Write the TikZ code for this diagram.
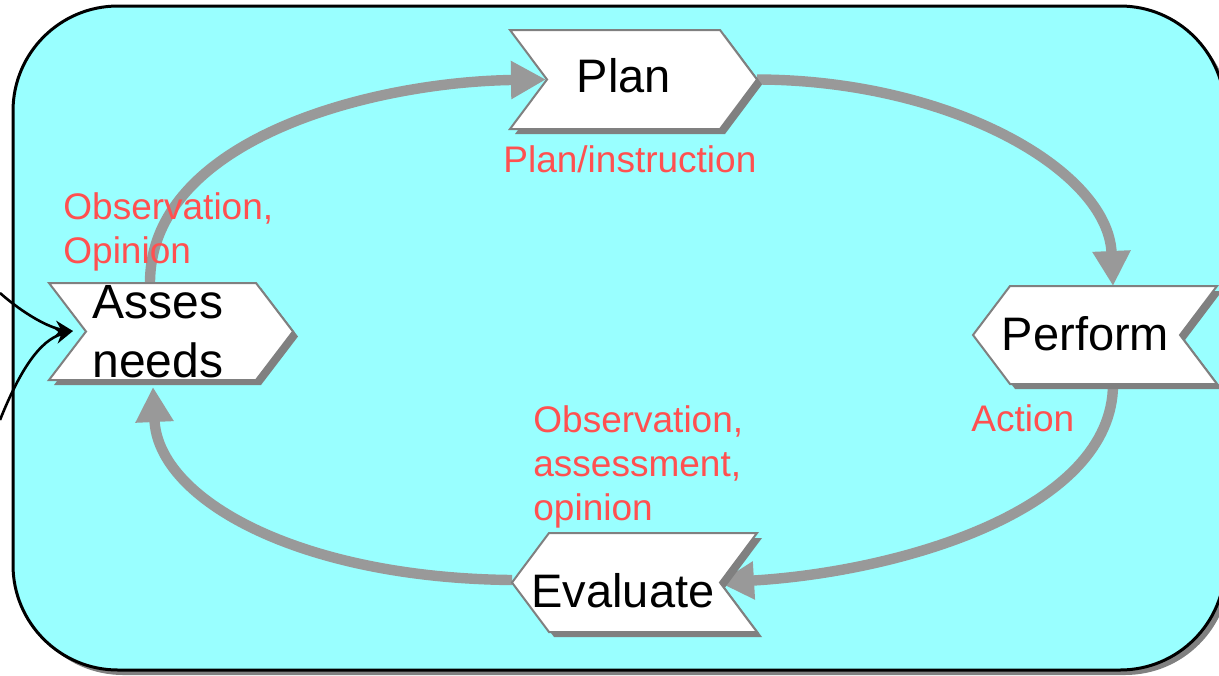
\documentclass[tikz,border=0pt]{standalone}
\usepackage{fontspec}
\setmainfont{Liberation Sans}
\usetikzlibrary{arrows.meta}
\definecolor{bgcyan}{HTML}{99FFFF}
\definecolor{arrgray}{HTML}{999999}
\definecolor{shgray}{HTML}{808080}
\definecolor{lblred}{HTML}{FF5050}
\tikzset{
  chevbox/.style={fill=white, draw=shgray, line width=1pt},
  chevshadow/.style={fill=shgray},
  cycarrow/.style={draw=arrgray, line width=5.2pt, -{Triangle[length=17.5pt,width=18pt]}},
  inarrow/.style={draw=black, line width=1.3pt, -{Stealth[length=9pt,width=8pt]}},
  steptext/.style={inner sep=0pt, font=\fontsize{23.5}{29.5}\selectfont, text=black},
  redlabel/.style={inner sep=0pt, font=\fontsize{18.5}{22}\selectfont, text=lblred, align=left},
}
% east-pointing chevron: L R T B
\newcommand\chevE[4]{%
  \fill[chevshadow] ({#1+5},{#3+5}) -- ({#2-37+5},{#3+5}) -- ({#2+5},{(#3+#4)/2+5}) -- ({#2-37+5},{#4+5}) -- ({#1+5},{#4+5}) -- ({#1+37+5},{(#3+#4)/2+5}) -- cycle;
  \filldraw[chevbox] (#1,#3) -- ({#2-37},#3) -- (#2,{(#3+#4)/2}) -- ({#2-37},#4) -- (#1,#4) -- ({#1+37},{(#3+#4)/2}) -- cycle;}
% west-pointing chevron: L R T B
\newcommand\chevW[4]{%
  \fill[chevshadow] ({#1+5},{(#3+#4)/2+5}) -- ({#1+37+5},{#3+5}) -- ({#2+5},{#3+5}) -- ({#2-37+5},{(#3+#4)/2+5}) -- ({#2+5},{#4+5}) -- ({#1+37+5},{#4+5}) -- cycle;
  \filldraw[chevbox] (#1,{(#3+#4)/2}) -- ({#1+37},#3) -- (#2,#3) -- ({#2-37},{(#3+#4)/2}) -- (#2,#4) -- ({#1+37},#4) -- cycle;}
\begin{document}
\begin{tikzpicture}[x=0.5pt,y=-0.5pt]
\useasboundingbox (0,0) rectangle (1219,675);
% frame
\fill[shgray, rounded corners=52.5pt] (18,11) rectangle (1230,675);
\filldraw[fill=bgcyan, draw=black, line width=1.5pt, rounded corners=52.5pt] (13,6) rectangle (1225,670);

% anchor points
\coordinate (asTop) at (150,283);
\coordinate (asBot) at (153,387);
\coordinate (asIn) at (73,331);
\coordinate (plNotch) at (546,79.5);
\coordinate (plTip) at (757,79.5);
\coordinate (pfTop) at (1113,286);
\coordinate (pfBot) at (1113,384);
\coordinate (evNotch) at (719,582.5);
\coordinate (evTip) at (512,580);
\coordinate (src1) at (0,293);
\coordinate (src2) at (0,420);

% cycle arrows
\draw[cycarrow] (asTop) .. controls (150,140) and (370,82) .. (plNotch);
\draw[cycarrow] (plTip) .. controls (950,80) and (1108,170) .. (pfTop);
\draw[cycarrow] (pfBot) .. controls (1113,510) and (900,572) .. (evNotch);
\draw[cycarrow] (evTip) .. controls (300,578) and (158,500) .. (asBot);

% chevrons
\chevE{510}{757}{30}{129}
\chevE{49}{293}{283}{380}
\chevW{973}{1217}{286}{384}
\chevW{512}{757}{533}{632}

% step texts
\node[steptext, anchor=base] (plan) at (624,92) {Plan};
\node[steptext, align=left, font=\fontsize{24}{29.5}\selectfont] (asses) at (158,332) {Asses\\needs};
\node[steptext, anchor=base] (perform) at (1085.5,350) {Perform};
\node[steptext, anchor=base] (evaluate) at (623,607) {Evaluate};

% incoming arrows
\draw[inarrow] (src1) .. controls (25,315) and (50,328) .. (asIn);
\draw[inarrow] (src2) .. controls (20,370) and (40,340) .. (asIn);

% red labels
\node[redlabel, anchor=base west] (lplan) at (503,172) {Plan/instruction};
\node[redlabel, anchor=north west] (lobs1) at (63,192) {Observation,\\Opinion};
\node[redlabel, anchor=base west] (laction) at (971,431) {Action};
\node[redlabel, anchor=north west] (lobs2) at (533,405) {Observation,\\assessment,\\opinion};
\end{tikzpicture}
\end{document}
